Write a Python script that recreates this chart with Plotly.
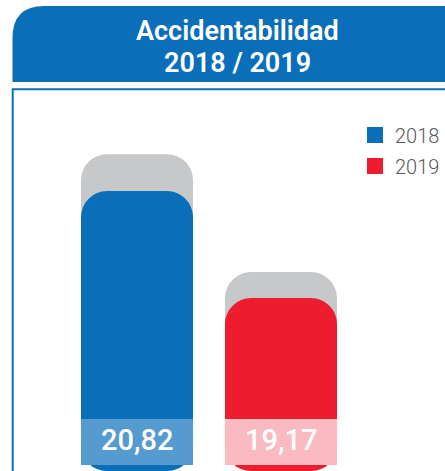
import plotly.graph_objects as go

# ---- data ----
years = ["2018", "2019"]
values = [20.82, 19.17]
shadow_values = [21.39, 19.57]
labels = ["20,82", "19,17"]
bar_colors = ["#0a6eb9", "#ed1c2e"]
label_box_colors = ["#559bd0", "#f9bac1"]

BLUE = "#0a6eb9"
W, H = 445, 471
base_val = 16.50
y_top = 23.77
bar_w = 0.778
xs = list(range(len(years)))

fig = go.Figure()

# gray shadow bars
fig.add_trace(go.Bar(
    x=xs, y=[v - base_val for v in shadow_values], base=base_val,
    width=bar_w, marker=dict(color="#c7c8ca", cornerradius=26, line=dict(width=0)),
    showlegend=False, hoverinfo="skip"))

# main bars
for i, (yr, v, c) in enumerate(zip(years, values, bar_colors)):
    fig.add_trace(go.Bar(
        x=[xs[i]], y=[v - base_val], base=base_val, width=bar_w,
        marker=dict(color=c, cornerradius=26, line=dict(width=0)),
        showlegend=False, hoverinfo="skip", name=yr))

# legend entries
for i, (yr, c) in enumerate(zip(years, bar_colors)):
    fig.add_trace(go.Scatter(
        x=[None], y=[None], mode="markers", name=yr, legendgroup=yr,
        marker=dict(symbol="square", size=16, color=c)))

shapes = []
# label boxes under numbers
for i, c in enumerate(label_box_colors):
    shapes.append(dict(type="rect", xref="x", yref="paper",
                       x0=xs[i] - bar_w / 2, x1=xs[i] + bar_w / 2,
                       y0=1 - 465 / H, y1=1 - 419 / H,
                       fillcolor=c, line=dict(width=0), layer="above"))

# header with rounded top-left corner
x0 = 12.5 / W
yt = 1 - 6 / H
yb = 1 - 82 / H
rx = 32 / W
ry = 32 / H
shapes.append(dict(type="path", xref="paper", yref="paper",
                   path=f"M {x0},{yb} L {x0},{yt - ry} Q {x0},{yt} {x0 + rx},{yt} L 1.02,{yt} L 1.02,{yb} Z",
                   fillcolor=BLUE, line=dict(width=0)))
# frame
fy = 1 - 89.2 / H
fx = 12.7 / W
shapes.append(dict(type="path", xref="paper", yref="paper",
                   path=f"M {fx},-0.02 L {fx},{fy} L 1.02,{fy}",
                   line=dict(color=BLUE, width=2)))

title_font = dict(family="Roboto", size=27, color="white", weight=600)
annotations = [
    dict(text="Accidentabilidad", x=237 / W, y=1 - 31 / H, xref="paper", yref="paper",
         showarrow=False, font=title_font,
         xanchor="center", yanchor="middle"),
    dict(text="2018 / 2019", x=237 / W, y=1 - 63 / H, xref="paper", yref="paper",
         showarrow=False, font=title_font,
         xanchor="center", yanchor="middle"),
]
for i, lab in enumerate(labels):
    annotations.append(dict(text=lab, x=xs[i], y=1 - 440 / H, xref="x", yref="paper",
                            showarrow=False, xanchor="center", yanchor="middle",
                            font=dict(family="Roboto", size=29, color="white", weight=500)))

fig.update_layout(
    width=W, height=H,
    margin=dict(l=0, r=0, t=0, b=0),
    paper_bgcolor="white", plot_bgcolor="white",
    barmode="overlay",
    xaxis=dict(range=[-137 / 144, 308 / 144], visible=False, fixedrange=True),
    yaxis=dict(range=[base_val, y_top], visible=False, fixedrange=True),
    shapes=shapes, annotations=annotations,
    showlegend=True,
    legend=dict(x=355 / W, y=1 - 115.5 / H, xanchor="left", yanchor="top",
                font=dict(family="Roboto", size=20, color="#58595b", weight=300),
                bgcolor="rgba(0,0,0,0)", tracegroupgap=2, itemwidth=30),
    hovermode=False,
)

fig.write_html("out.html", config={"displayModeBar": False},
               post_script="document.body.style.margin='0px';document.body.style.overflow='hidden';")
